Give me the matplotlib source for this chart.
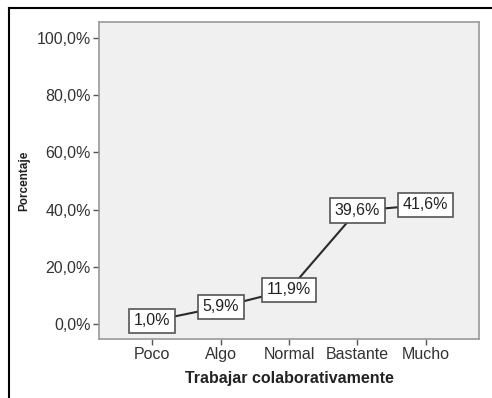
import matplotlib
matplotlib.use('Agg')
import matplotlib.pyplot as plt
from matplotlib.lines import Line2D

categorias = ['Poco', 'Algo', 'Normal', 'Bastante', 'Mucho']
porcentajes = [1.0, 5.9, 11.9, 39.6, 41.6]
yticks = [0, 20, 40, 60, 80, 100]

plt.rcParams['font.family'] = ['Liberation Sans', 'DejaVu Sans']

fig = plt.figure(figsize=(4.92, 3.98), dpi=100)
ax = fig.add_axes([99 / 492, 1 - 339 / 398, (479 - 99) / 492, (339 - 22) / 398])
ax.set_facecolor('#f0f0f0')

x = list(range(len(categorias)))
ax.plot(x, porcentajes, color='#2a2a2a', lw=1.5, zorder=2)

# etiquetas de cada punto
for xi, v in zip(x, porcentajes):
    ax.text(xi, v, f'{v:.1f}%'.replace('.', ','), ha='center', va='center',
            fontsize=11.5, color='#222222', zorder=3,
            bbox=dict(boxstyle='square,pad=0.3', fc='white', ec='#555555', lw=1.2))

ax.set_xlim(-0.78, 4.78)
ax.set_ylim(-5.3, 105.6)
ax.set_xticks(x)
ax.set_xticklabels(categorias)
ax.set_yticks(yticks)
ax.set_yticklabels([f'{t:.1f}%'.replace('.', ',') for t in yticks])
ax.tick_params(labelsize=11.5, length=4, width=1, pad=2,
               colors='#555555', labelcolor='#333333')

for s in ax.spines.values():
    s.set_color('#999999')
    s.set_linewidth(1.2)

ax.set_xlabel('Trabajar colaborativamente', fontsize=11.5, fontweight='bold', color='#222222', labelpad=6)
ax.set_ylabel('Porcentaje', fontsize=8.5, fontweight='bold', color='#222222')
ax.yaxis.set_label_coords(-0.18, 0.5)

# marco exterior
fig.add_artist(Line2D([9 / 492, 9 / 492], [0, 1 - 8 / 398], color='black', lw=1.5))
fig.add_artist(Line2D([9 / 492, 1], [1 - 8 / 398, 1 - 8 / 398], color='black', lw=1.5))

fig.savefig('out.png', dpi=100)
